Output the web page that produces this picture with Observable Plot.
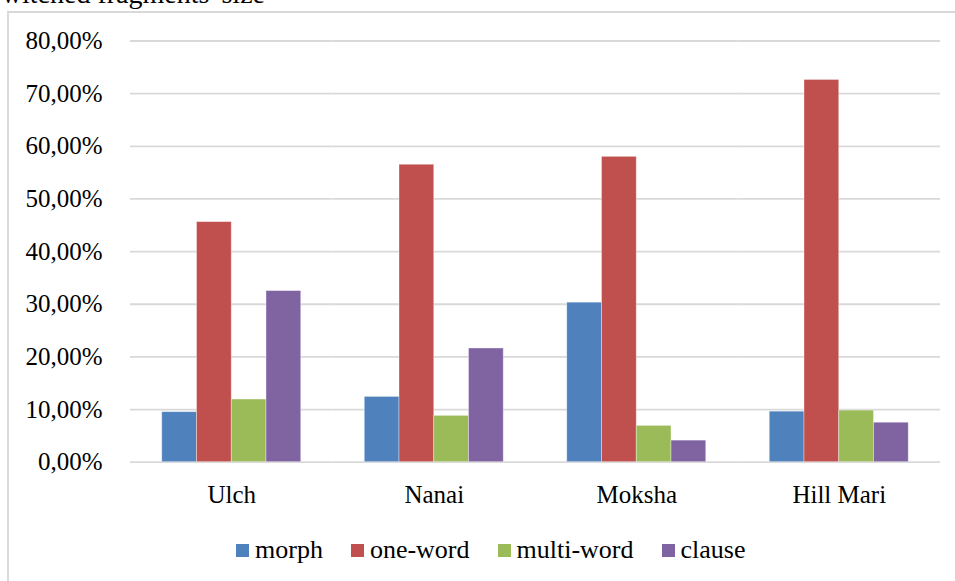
<!DOCTYPE html>
<html>
<head>
<meta charset="utf-8">
<script src="https://cdn.jsdelivr.net/npm/d3@7"></script>
<script src="https://cdn.jsdelivr.net/npm/@observablehq/plot@0.6"></script>
<style>
  html, body { margin: 0; padding: 0; background: #fff; }
  #wrap { position: relative; width: 955px; height: 581px; overflow: hidden; font-family: 'Liberation Serif', serif; }
  #frame { position: absolute; left: 7px; top: 11px; width: 1000px; height: 700px; border-left: 2px solid #d9d9d9; border-top: 2px solid #d9d9d9; }
  #title { position: absolute; right: 690px; top: -22px; font-family: 'Liberation Serif', serif; font-size: 28px; color: #000; white-space: nowrap; line-height: 32px; }
  #chart { position: absolute; left: 0; top: 0; }
  #legend { position: absolute; left: 236px; top: 535px; display: flex; align-items: center; font-family: 'Liberation Serif', serif; font-size: 26px; color: #000; }
  #legend .item { display: flex; align-items: center; margin-right: 28px; font-family: 'Liberation Serif', serif; }
  #legend .sw { width: 13px; height: 13px; margin-right: 6px; }
  #chart svg text { font-family: 'Liberation Serif', serif; }
</style>
</head>
<body>
<div id="wrap">
  <div id="frame"></div>
  <div id="title">Switched fragments' size</div>
  <div id="chart"></div>
  <div id="legend"></div>
</div>
<script>
// Languages and fragment types
const categories = ["Ulch", "Nanai", "Moksha", "Hill Mari"];
const series = ["morph", "one-word", "multi-word", "clause"];
const colors = ["#4F81BD", "#C0504D", "#9BBB59", "#8064A2"];

// Share of switched fragments by size, percent
const morph     = [9.5, 12.4, 30.3, 9.6];
const oneWord   = [45.6, 56.5, 58.0, 72.6];
const multiWord = [11.9, 8.8, 6.9, 9.8];
const clause    = [32.5, 21.6, 4.1, 7.5];

const yTicks = [0, 10, 20, 30, 40, 50, 60, 70, 80];

const valuesBySeries = [morph, oneWord, multiWord, clause];
const rows = [];
categories.forEach((c, i) => {
  series.forEach((s, j) => rows.push({language: c, type: s, value: valuesBySeries[j][i]}));
});

const fmt = d => d.toFixed(2).replace(".", ",") + "%";
const font = "'Liberation Serif', serif";

const chart = Plot.plot({
  width: 955,
  height: 520,
  marginLeft: 130,
  marginRight: 15,
  marginTop: 40.5,
  marginBottom: 58.3,
  style: {fontFamily: font, fontSize: "25px", color: "#000", background: "transparent"},
  fx: {domain: categories, padding: 0, round: false, label: null},
  x: {domain: series, paddingInner: 0, paddingOuter: 0.914, round: false, axis: null},
  y: {domain: [0, 80], label: null},
  color: {domain: series, range: colors},
  marks: [
    Plot.ruleY(yTicks, {stroke: "#d9d9d9", strokeWidth: 1.8}),
    Plot.barY(rows, {
      fx: "language", x: "type", y: "value", fill: "type",
      inset: 0, stroke: "#ffffff", strokeOpacity: 0.45, strokeWidth: 0.8
    }),
    Plot.axisY({ticks: yTicks, tickFormat: fmt, tickSize: 0, tickPadding: 28, fontSize: 25, fontFamily: font, label: null}),
    Plot.axisFx({anchor: "bottom", tickSize: 0, tickPadding: 23.5, fontSize: 25, fontFamily: font, label: null})
  ]
});
document.getElementById("chart").appendChild(chart);

// Legend row below the chart
const legend = document.getElementById("legend");
series.forEach((s, j) => {
  const item = document.createElement("div");
  item.className = "item";
  const sw = document.createElement("span");
  sw.className = "sw";
  sw.style.background = colors[j];
  const label = document.createElement("span");
  label.textContent = s;
  item.appendChild(sw);
  item.appendChild(label);
  legend.appendChild(item);
});
</script>
</body>
</html>
